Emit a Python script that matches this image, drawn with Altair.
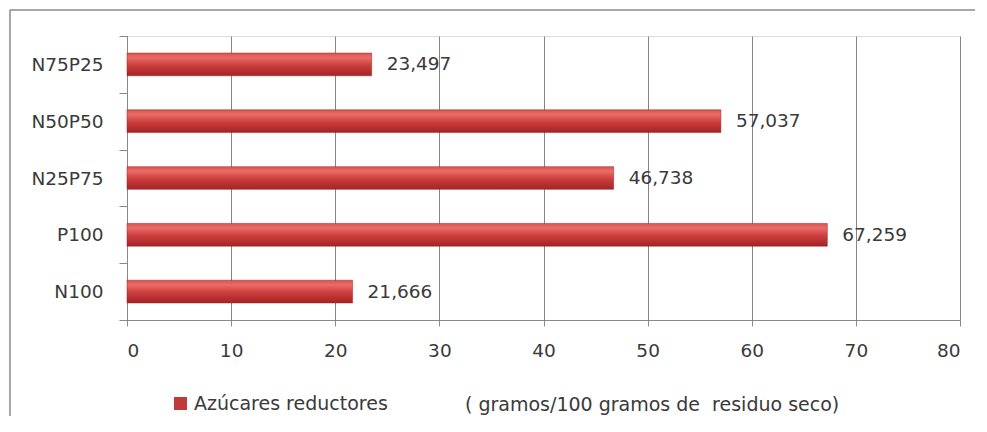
import altair as alt
import pandas as pd

categories = ["N100", "P100", "N25P75", "N50P50", "N75P25"]
values = [21.666, 67.259, 46.738, 57.037, 23.497]
series_name = "Azúcares reductores"
unit_note = "( gramos/100 gramos de\u00a0\u00a0residuo seco)"
x_ticks = [0, 10, 20, 30, 40, 50, 60, 70, 80]

df = pd.DataFrame({
    "cat": categories,
    "val": values,
    "label": [f"{v:.3f}".replace(".", ",") for v in values],
    "series": [series_name] * len(values),
})

FONT = "DejaVu Sans"
FS = 18.5
TXT = "#3a3a3a"
order = list(reversed(categories))

y_enc = alt.Y("cat:N", sort=order, title=None,
              scale=alt.Scale(paddingInner=0, paddingOuter=0),
              axis=alt.Axis(tickBand="extent", tickSize=8, tickColor="#888888",
                            domainColor="#888888", labelFontSize=FS, labelColor=TXT,
                            labelFont=FONT, labelPadding=16, grid=False))
x_enc = alt.X("val:Q", title=None,
              scale=alt.Scale(domain=[0, 80], nice=False),
              axis=alt.Axis(values=x_ticks, tickSize=6, tickColor="#888888",
                            domainColor="#888888", gridColor="#858585", gridWidth=1,
                            labelFontSize=FS, labelColor=TXT, labelFont=FONT,
                            labelPadding=15, grid=True))

grad = alt.LinearGradient(
    gradient="linear", x1=0, x2=0, y1=0, y2=1,
    stops=[alt.GradientStop(color="#d9534f", offset=0),
           alt.GradientStop(color="#ea6c68", offset=0.2),
           alt.GradientStop(color="#cc3c3c", offset=0.55),
           alt.GradientStop(color="#a42426", offset=1)])

base = alt.Chart(df)
bars = base.mark_bar(color=grad, stroke="#9a2222", strokeWidth=0.5,
                     height=alt.RelativeBandSize(0.4)).encode(y=y_enc, x=x_enc)
texts = base.mark_text(align="left", dx=15, fontSize=FS, font=FONT, color=TXT).encode(
    y=alt.Y("cat:N", sort=order), x="val:Q", text="label:N")

legend_layer = base.mark_square(opacity=0).encode(
    x=alt.value(0), y=alt.value(0),
    color=alt.Color("series:N", title=None,
                    scale=alt.Scale(range=["#c0393b"]),
                    legend=alt.Legend(orient="none", legendX=44, legendY=358, padding=0,
                                      symbolType="square", symbolSize=170,
                                      symbolOpacity=1, symbolStrokeWidth=0,
                                      labelFontSize=19, labelFont=FONT, labelLimit=0,
                                      labelColor=TXT, labelOffset=4)))

note = alt.Chart(pd.DataFrame({"t": [unit_note]})).mark_text(
    align="left", baseline="middle", fontSize=19, font=FONT, color=TXT
).encode(x=alt.value(338), y=alt.value(369), text="t:N")

frame_df = pd.DataFrame({"a": [0]})
frame_top = alt.Chart(frame_df).mark_rule(stroke="#8a8a8a", strokeWidth=1.5).encode(
    x=alt.value(-117), x2=alt.value(850), y=alt.value(-26), y2=alt.value(-26))
frame_left = alt.Chart(frame_df).mark_rule(stroke="#8a8a8a", strokeWidth=1.5).encode(
    x=alt.value(-117), x2=alt.value(-117), y=alt.value(-26), y2=alt.value(380))

chart = alt.layer(frame_top, frame_left, bars, texts, legend_layer, note).properties(
    width=833, height=284,
    autosize=alt.AutoSizeParams(type="none"),
    padding={"left": 119, "top": 28, "right": 15, "bottom": 96},
).configure_view(stroke=None).configure(background="white")

chart.save("out.html", embed_options={"renderer": "svg", "actions": False})
